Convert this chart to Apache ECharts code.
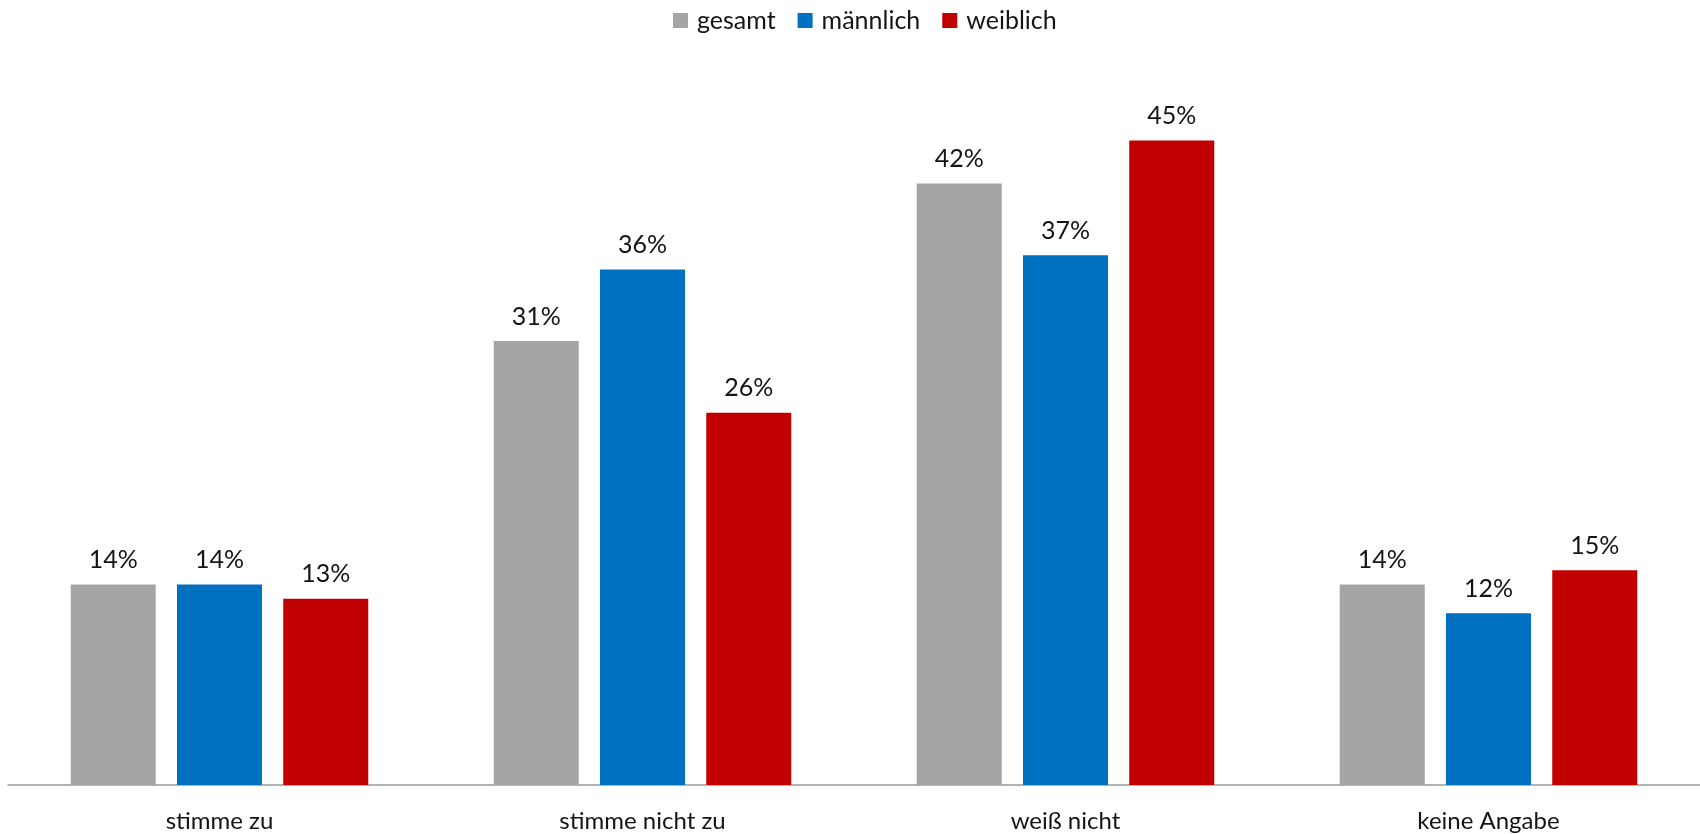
<!DOCTYPE html>
<html>
<head>
<meta charset="utf-8">
<style>
  html, body { margin: 0; padding: 0; background: #fff; }
  #chart { width: 1700px; height: 834px; }
</style>
<script src="https://cdn.jsdelivr.net/npm/echarts@6/dist/echarts.min.js"></script>
</head>
<body>
<div id="chart"></div>
<script>
// Antwortkategorien und Anteile in Prozent
const categories = ['stimme zu', 'stimme nicht zu', 'weiß nicht', 'keine Angabe'];
const seriesNames = ['gesamt', 'männlich', 'weiblich'];
const gesamt = [14, 31, 42, 14];
const maennlich = [14, 36, 37, 12];
const weiblich = [13, 26, 45, 15];
const colors = ['#A5A5A5', '#0070C0', '#C00000'];

const FONT = 'Lato, "Open Sans", sans-serif';
const TEXT = '#141414';

function barSeries(name, data, color) {
  return {
    name: name,
    type: 'bar',
    data: data,
    barWidth: 85,
    barGap: '25%',
    itemStyle: { color: color },
    label: {
      show: true,
      position: 'top',
      distance: 12,
      formatter: '{c}%',
      fontFamily: FONT,
      fontSize: 25,
      color: TEXT
    }
  };
}

const chart = echarts.init(document.getElementById('chart'));
chart.setOption({
  animation: false,
  color: colors,
  legend: {
    data: seriesNames,
    top: 3,
    left: 668,
    itemWidth: 15,
    itemHeight: 15,
    itemGap: 22,
    icon: 'rect',
    textStyle: { fontFamily: FONT, fontSize: 25, color: TEXT, padding: [0, 0, 0, 4] }
  },
  grid: { left: 8, right: 0, top: 69, bottom: 49, containLabel: false },
  xAxis: {
    type: 'category',
    data: categories,
    axisLine: { lineStyle: { color: '#9a9a9a', width: 1.5 } },
    axisTick: { show: false },
    axisLabel: { fontFamily: FONT, fontSize: 24, color: TEXT, margin: 24 }
  },
  yAxis: {
    type: 'value',
    min: 0,
    max: 50,
    show: false,
    splitLine: { show: false }
  },
  series: [
    barSeries(seriesNames[0], gesamt, colors[0]),
    barSeries(seriesNames[1], maennlich, colors[1]),
    barSeries(seriesNames[2], weiblich, colors[2])
  ]
});
</script>
</body>
</html>
